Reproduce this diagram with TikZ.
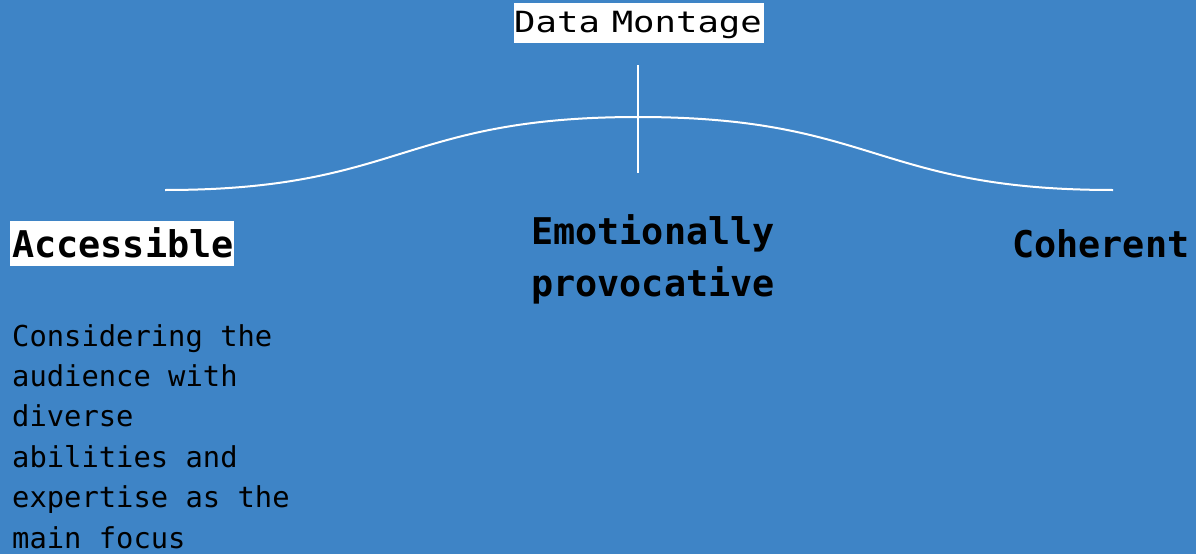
\documentclass[tikz,border=0pt]{standalone}
\usepackage{graphicx}
\usepackage{fontspec}
\setmainfont{DejaVu Sans Mono}
\definecolor{bg}{HTML}{3E84C6}
\begin{document}
\begin{tikzpicture}[x=1pt,y=-1pt,
  wline/.style={draw=white,line width=2pt},
  headtxt/.style={font=\fontsize{36.8}{52}\selectfont\bfseries,text=black,inner sep=0pt,align=left},
  bodytxt/.style={font=\fontsize{28.8}{40.4}\selectfont,text=black,inner sep=0pt,align=left},
  hlbox/.style={fill=white,inner sep=0pt}]
\fill[bg] (0,0) rectangle (1196,554);
\useasboundingbox (0,0) rectangle (1196,554);
% title
\node (title) [hlbox,anchor=base west,text width=250pt,align=left,text height=29pt,text depth=11pt,
  font=\fontsize{35.6}{40}\selectfont] at (514,32) {\scalebox{1}[0.82]{Data Montage}};
% axis
\coordinate (vtop) at (638,65);
\coordinate (vbot) at (638,173);
\coordinate (cl) at (165,190);
\coordinate (cp) at (638,117);
\coordinate (cr) at (1113,190);
\draw[wline] (vtop) -- (vbot);
\draw[wline] (cl) .. controls (401.5,190) and (401.5,117) .. (cp)
  .. controls (875.5,117) and (875.5,190) .. (cr);
% headings
\node (acc) [headtxt,hlbox,anchor=base west,text width=224pt,text height=36pt,text depth=9pt] at (10,257) {\hspace*{2pt}Accessible};
\node (emo) [headtxt,anchor=base west] at (531,296) {Emotionally\\provocative};
\node (coh) [headtxt,anchor=base west] at (1012,257) {Coherent};
% body
\node (desc) [bodytxt,anchor=base west] at (12,548) {Considering the\\audience with\\diverse\\abilities and\\expertise as the\\main focus};
\end{tikzpicture}
\end{document}
